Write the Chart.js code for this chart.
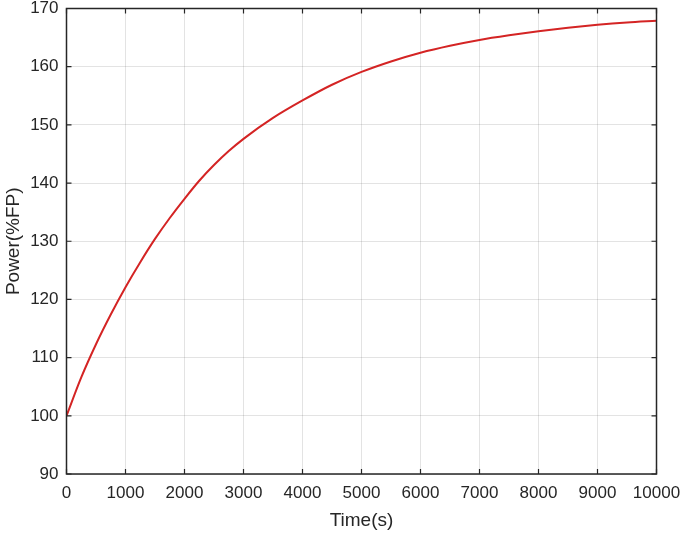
<!DOCTYPE html>
<html>
<head>
<meta charset="utf-8">
<script src="https://cdn.jsdelivr.net/npm/chart.js@4"></script>
<style>
  html, body { margin: 0; padding: 0; background: #fff; }
  #wrap { width: 685px; height: 534px; }
</style>
</head>
<body>
<div id="wrap"><canvas id="myChart" width="685" height="534"></canvas></div>
<script>
// time in seconds, power in %FP
const timeSec = [0, 250, 500, 750, 1000, 1250, 1500, 1750, 2000, 2250, 2500, 2750, 3000,
    3500, 4000, 4500, 5000, 5500, 6000, 6500, 7000, 7500, 8000, 8500, 9000, 9500, 10000];
const powerFP = [100, 106.6, 112.3, 117.4, 122.1, 126.4, 130.4, 134, 137.3, 140.4, 143.1, 145.5, 147.6,
    151.2, 154.2, 156.9, 159.1, 160.9, 162.4, 163.6, 164.6, 165.4, 166.1, 166.7, 167.2, 167.6, 167.9];
const xTicks = [0, 1000, 2000, 3000, 4000, 5000, 6000, 7000, 8000, 9000, 10000];
const yTicks = [90, 100, 110, 120, 130, 140, 150, 160, 170];

const axisColor = '#262626';
const fontFamily = '"Liberation Sans", Arial, sans-serif';

// MATLAB style box with inward tick marks on all four sides
const boxPlugin = {
    id: 'box',
    afterDraw(chart) {
        const { ctx, chartArea: a, scales } = chart;
        ctx.save();
        ctx.strokeStyle = axisColor;
        ctx.lineWidth = 1.5;
        ctx.strokeRect(a.left, a.top, a.right - a.left, a.bottom - a.top);
        ctx.lineWidth = 1.2;
        ctx.beginPath();
        const len = 5;
        xTicks.forEach(v => {
            const px = scales.x.getPixelForValue(v);
            ctx.moveTo(px, a.bottom); ctx.lineTo(px, a.bottom - len);
            ctx.moveTo(px, a.top); ctx.lineTo(px, a.top + len);
        });
        yTicks.forEach(v => {
            const py = scales.y.getPixelForValue(v);
            ctx.moveTo(a.left, py); ctx.lineTo(a.left + len, py);
            ctx.moveTo(a.right, py); ctx.lineTo(a.right - len, py);
        });
        ctx.stroke();
        ctx.restore();
    }
};

const ctx = document.getElementById('myChart');

const powerChart = new Chart(ctx, {
    type: 'line',
    data: {
        datasets: [{
            label: 'Power',
            data: timeSec.map((t, i) => ({ x: t, y: powerFP[i] })),
            borderColor: '#d42424',
            borderWidth: 2,
            pointRadius: 0,
            cubicInterpolationMode: 'monotone',
            fill: false
        }]
    },
    options: {
        responsive: false,
        animation: false,
        layout: { padding: 0 },
        plugins: {
            legend: { display: false },
            tooltip: { enabled: false }
        },
        scales: {
            x: {
                type: 'linear',
                min: 0,
                max: 10000,
                afterBuildTicks: (axis) => { axis.ticks = xTicks.map(v => ({ value: v })); },
                afterFit: (axis) => {
                    axis.height = 60;
                    axis.paddingLeft = 0;
                    axis.paddingRight = 28.5;
                },
                grid: { color: 'rgba(0,0,0,0.11)', drawTicks: false },
                border: { display: false },
                ticks: {
                    color: axisColor,
                    padding: 9,
                    maxRotation: 0,
                    autoSkip: false,
                    callback: (v) => String(v),
                    font: { family: fontFamily, size: 17 }
                },
                title: {
                    display: true,
                    text: 'Time(s)',
                    color: axisColor,
                    padding: { top: 0, bottom: 2 },
                    font: { family: fontFamily, size: 19 }
                }
            },
            y: {
                min: 90,
                max: 170,
                afterBuildTicks: (axis) => { axis.ticks = yTicks.map(v => ({ value: v })); },
                afterFit: (axis) => {
                    axis.width = 66.5;
                    axis.paddingTop = 8.5;
                    axis.paddingBottom = 0;
                },
                grid: { color: 'rgba(0,0,0,0.11)', drawTicks: false },
                border: { display: false },
                ticks: {
                    color: axisColor,
                    padding: 8,
                    autoSkip: false,
                    callback: (v) => String(v),
                    font: { family: fontFamily, size: 17 }
                },
                title: {
                    display: true,
                    text: 'Power(%FP)',
                    color: axisColor,
                    padding: { top: 2, bottom: 0 },
                    font: { family: fontFamily, size: 19 }
                }
            }
        }
    },
    plugins: [boxPlugin]
});
</script>
</body>
</html>
